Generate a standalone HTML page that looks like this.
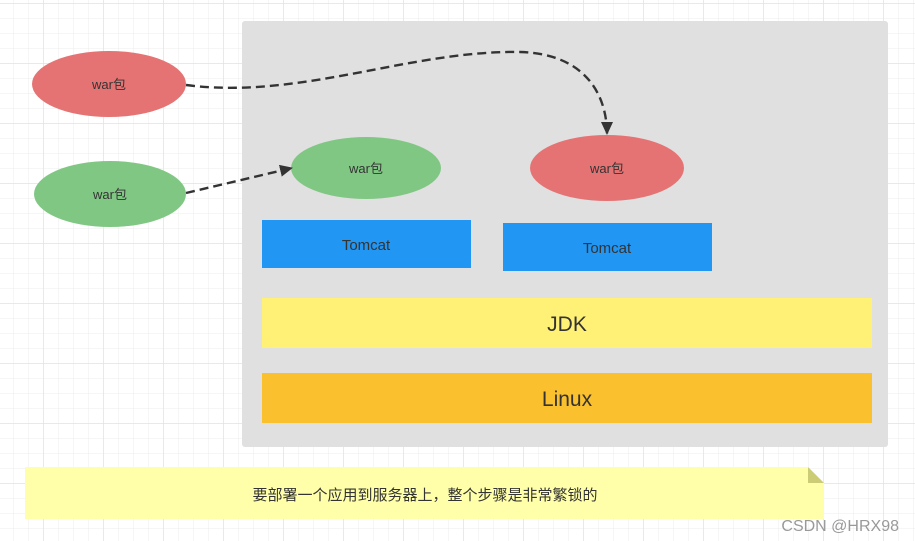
<!DOCTYPE html>
<html><head><meta charset="utf-8"><style>
html,body{margin:0;padding:0;width:915px;height:541px;overflow:hidden;background:#fff}
svg{display:block}
text{font-family:"Liberation Sans","Noto Sans CJK SC",sans-serif;fill:#333}
</style></head><body>
<svg width="915" height="541" viewBox="0 0 915 541" xmlns="http://www.w3.org/2000/svg">
<defs>
<pattern id="g" x="13" y="3" width="15" height="15" patternUnits="userSpaceOnUse">
<path d="M0 0H15M0 0V15" stroke="#ececec" stroke-width="1" fill="none"/>
</pattern>
<pattern id="G" x="43" y="3" width="60" height="60" patternUnits="userSpaceOnUse">
<path d="M0 0H60M0 0V60" stroke="#e2e2e2" stroke-width="1.5" fill="none"/>
</pattern>
<marker id="a" markerWidth="13" markerHeight="12" refX="12" refY="6" orient="auto" markerUnits="userSpaceOnUse">
<path d="M0,0 L13,6 L0,12 Z" fill="#333"/>
</marker>
</defs>
<rect width="915" height="541" fill="url(#g)"/>
<rect width="915" height="541" fill="url(#G)"/>
<rect x="242" y="21" width="646" height="426" rx="3" fill="#e0e0e0"/>
<ellipse cx="109" cy="84" rx="77" ry="33" fill="#e57373"/>
<text x="109" y="89" font-size="13" text-anchor="middle">war包</text>
<ellipse cx="110" cy="194" rx="76" ry="33" fill="#81c784"/>
<text x="110" y="199" font-size="13" text-anchor="middle">war包</text>
<ellipse cx="366" cy="168" rx="75" ry="31" fill="#81c784"/>
<text x="366" y="173" font-size="13" text-anchor="middle">war包</text>
<ellipse cx="607" cy="168" rx="77" ry="33" fill="#e57373"/>
<text x="607" y="173" font-size="13" text-anchor="middle">war包</text>
<rect x="262" y="220" width="209" height="48" fill="#2196f3"/>
<text x="366" y="250" font-size="15" text-anchor="middle">Tomcat</text>
<rect x="503" y="223" width="209" height="48" fill="#2196f3"/>
<text x="607" y="253" font-size="15" text-anchor="middle">Tomcat</text>
<rect x="262" y="298" width="610" height="50" fill="#fff176"/>
<text x="567" y="331" font-size="21" text-anchor="middle">JDK</text>
<rect x="262" y="373" width="610" height="50" fill="#fbc02d"/>
<text x="567" y="406" font-size="21" text-anchor="middle">Linux</text>
<path d="M186,85 C300,100 410,50 520,52 C590,54 607,100 607,134" fill="none" stroke="#333" stroke-width="2.4" stroke-dasharray="9,5" marker-end="url(#a)"/>
<path d="M186,193 L292,168" fill="none" stroke="#333" stroke-width="2.4" stroke-dasharray="9,5" marker-end="url(#a)"/>
<path d="M25,467 H808 L824,483 V519 H25 Z" fill="#ffffaa"/>
<path d="M808,467 L824,483 H808 Z" fill="#cccc77"/>
<text x="425" y="500" font-size="15" text-anchor="middle">要部署一个应用到服务器上，整个步骤是非常繁锁的</text>
<text x="899" y="531" font-size="16" text-anchor="end" style="fill:#999">CSDN @HRX98</text>
</svg>
</body></html>
